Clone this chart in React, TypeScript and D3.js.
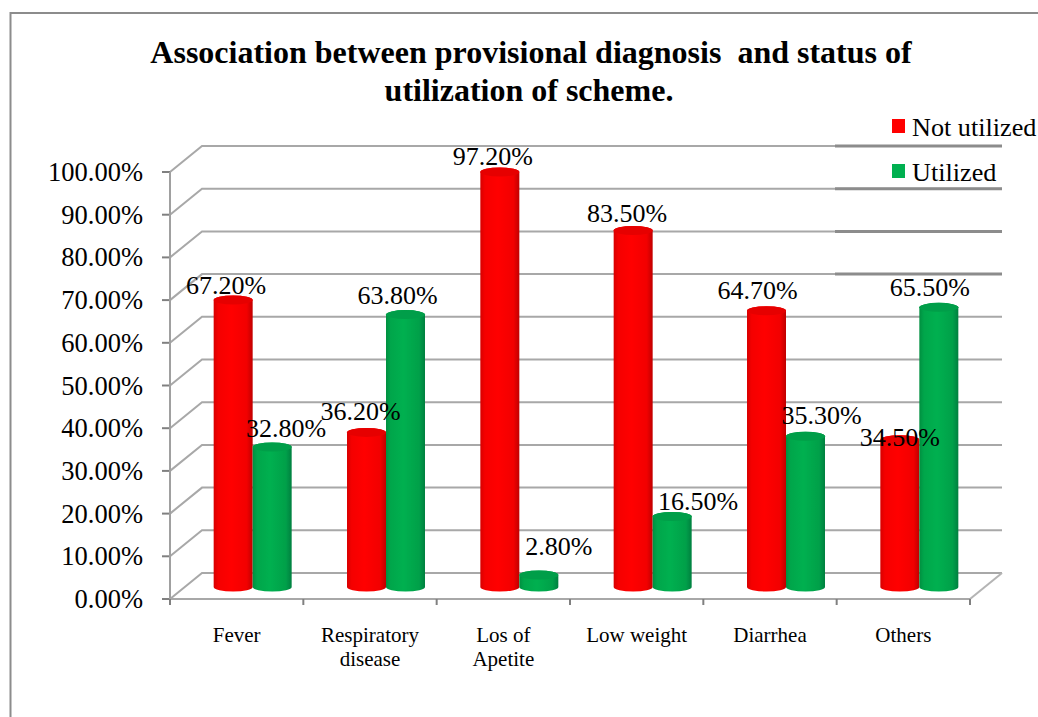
import * as d3 from "d3";

const categories = ["Fever", "Respiratory disease", "Los of Apetite", "Low weight", "Diarrhea", "Others"];
const notUtilized = [67.2, 36.2, 97.2, 83.5, 64.7, 34.5];
const utilized = [32.8, 63.8, 2.8, 16.5, 35.3, 65.5];
const yTicks = [0, 10, 20, 30, 40, 50, 60, 70, 80, 90, 100];
const heavyTicks = [70, 80, 90, 100];

const FONT = "'Liberation Serif', 'Times New Roman', serif";
const RED = "#ff0000";
const GREEN = "#00b050";

// 3d box offset of the back wall
const depthX = 32;
const depthY = -26;

// nudges of the value labels against the top of each cylinder
const redLabelDx = [-7, -6, -7, -6, -9, 0];
const redLabelDy = [-6, -12, -7, -8, -12, 6];
const greenLabelDx = [14, -8, 20, 26, 16, -9];
const greenLabelDy = [-10, -11, -20, -7, -12, -11];

const x = d3.scaleBand<string>().domain(categories).range([170, 970]);
const y = d3.scaleLinear().domain([0, 100]).range([599, 172]);

const barW = 39;
const ry = 4.5;

function cylinder(cx: number, value: number) {
  const base = y(0) + depthY / 2 + 1;
  const top = base - (y(0) - y(value));
  const r = barW / 2;
  const body = `M${cx - r},${top}L${cx - r},${base}A${r},${ry} 0 0 0 ${cx + r},${base}L${cx + r},${top}A${r},${ry} 0 0 0 ${cx - r},${top}Z`;
  return { body, top, r };
}

function Cylinder({ cx, value, cap, id }: { cx: number; value: number; cap: string; id: string }) {
  const { body, top, r } = cylinder(cx, value);
  return (
    <g filter="url(#soft)">
      <path d={body} fill={`url(#${id})`} />
      <ellipse cx={cx} cy={top} rx={r} ry={ry} fill={cap} />
    </g>
  );
}

export default function App() {
  const pct = (v: number) => v.toFixed(2) + "%";
  const ticksX = [...categories.map((c) => x(c)!), 970];
  const bw = x.bandwidth();
  const labelLines = [["Fever"], ["Respiratory", "disease"], ["Los of", "Apetite"], ["Low weight"], ["Diarrhea"], ["Others"]];

  return (
    <svg width={1038} height={717} style={{ position: "absolute", left: 0, top: 0, background: "#fff" }} fontFamily={FONT}>
      <defs>
        <linearGradient id="redGrad" x1="0" x2="1" y1="0" y2="0">
          <stop offset="0" stopColor="#d80000" />
          <stop offset="0.12" stopColor="#f50000" />
          <stop offset="0.45" stopColor="#ff0000" />
          <stop offset="0.85" stopColor="#f20000" />
          <stop offset="1" stopColor="#c00000" />
        </linearGradient>
        <linearGradient id="greenGrad" x1="0" x2="1" y1="0" y2="0">
          <stop offset="0" stopColor="#008f40" />
          <stop offset="0.12" stopColor="#00a64b" />
          <stop offset="0.45" stopColor="#00b050" />
          <stop offset="0.85" stopColor="#00a049" />
          <stop offset="1" stopColor="#008040" />
        </linearGradient>
        <filter id="soft" x="-10%" y="-5%" width="120%" height="110%">
          <feGaussianBlur stdDeviation="0.6" />
        </filter>
      </defs>

      {/* frame */}
      <path d="M1038,13H10.5V717" fill="none" stroke="#8c8c8c" strokeWidth={2} />

      {/* title */}
      <text x={531} y={63} textAnchor="middle" fontSize={32} fontWeight="bold" style={{ whiteSpace: "pre" }}>
        Association between provisional diagnosis  and status of
      </text>
      <text x={529} y={101} textAnchor="middle" fontSize={32} fontWeight="bold">
        utilization of scheme.
      </text>

      {/* walls and gridlines */}
      {yTicks.map((t) => (
        <g key={t}>
          <path
            d={`M170,${y(t)}L${170 + depthX},${y(t) + depthY}H${970 + depthX}`}
            fill="none"
            stroke="#a8a8a8"
            strokeWidth={2}
          />
          <line x1={162} x2={170} y1={y(t)} y2={y(t)} stroke="#808080" strokeWidth={2} />
          <text x={143} y={y(t) + 9} textAnchor="end" fontSize={26.5}>
            {pct(t)}
          </text>
        </g>
      ))}
      {heavyTicks.map((t) => (
        <line key={t} x1={835} x2={970 + depthX} y1={y(t) + depthY} y2={y(t) + depthY} stroke="#8c8c8c" strokeWidth={3} />
      ))}
      <path d={`M${970 + depthX},${y(0) + depthY}L970,${y(0)}`} fill="none" stroke="#b4b4b4" strokeWidth={2} />
      <line x1={170} x2={170} y1={y(100)} y2={y(0)} stroke="#a0a0a0" strokeWidth={2} />
      <line x1={170} x2={970} y1={y(0)} y2={y(0)} stroke="#a8a8a8" strokeWidth={2} />
      {ticksX.map((tx) => (
        <line key={tx} x1={tx} x2={tx} y1={y(0)} y2={y(0) + 6} stroke="#808080" strokeWidth={2} />
      ))}

      {/* cylinders */}
      {categories.map((c, i) => {
        const mid = x(c)! + bw / 2 + depthX / 2;
        return (
          <g key={c}>
            <Cylinder cx={mid - barW / 2} value={notUtilized[i]} cap="#e60000" id="redGrad" />
            <Cylinder cx={mid + barW / 2} value={utilized[i]} cap="#009e48" id="greenGrad" />
          </g>
        );
      })}

      {/* value labels */}
      {categories.map((c, i) => {
        const mid = x(c)! + bw / 2 + depthX / 2;
        const redTop = cylinder(mid - barW / 2, notUtilized[i]).top;
        const greenTop = cylinder(mid + barW / 2, utilized[i]).top;
        return (
          <g key={c} textAnchor="middle" fontSize={26}>
            <text x={mid - barW / 2 + redLabelDx[i]} y={redTop + redLabelDy[i]}>{pct(notUtilized[i])}</text>
            <text x={mid + barW / 2 + greenLabelDx[i]} y={greenTop + greenLabelDy[i]}>{pct(utilized[i])}</text>
          </g>
        );
      })}

      {/* category labels */}
      {categories.map((c, i) => (
        <text key={c} x={x(c)! + bw / 2} y={642} textAnchor="middle" fontSize={21}>
          {labelLines[i].map((l, j) => (
            <tspan key={l} x={x(c)! + bw / 2} dy={j === 0 ? 0 : 24}>{l}</tspan>
          ))}
        </text>
      ))}

      {/* legend */}
      <rect x={892} y={119} width={13} height={14} fill={RED} />
      <text x={912} y={136} fontSize={26.2}>Not utilized</text>
      <rect x={892} y={164} width={13} height={14} fill={GREEN} />
      <text x={912} y={181} fontSize={26.2}>Utilized</text>
    </svg>
  );
}
